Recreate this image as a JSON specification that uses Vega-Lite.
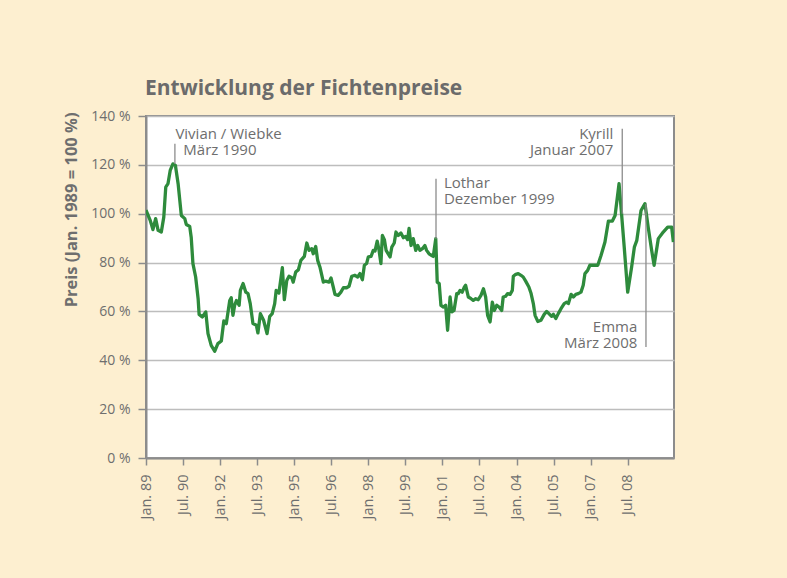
{
  "$schema": "https://vega.github.io/schema/vega-lite/v6.json",
  "width": 528,
  "height": 342,
  "autosize": {"type": "none"},
  "padding": {"left": 146, "top": 116, "right": 113, "bottom": 120},
  "background": "#FDEFD0",
  "title": {
    "text": "Entwicklung der Fichtenpreise",
    "anchor": "start",
    "frame": "group",
    "font": "Open Sans",
    "fontSize": 21,
    "fontWeight": "bold",
    "color": "#6B6B6B",
    "offset": 10,
    "dx": -1
  },
  "config": {
    "view": {"fill": "white", "stroke": "#8C8C8C", "strokeWidth": 2},
    "font": "Open Sans"
  },
  "datasets": {
    "preise": [
      {"t": 1989.0, "v": 101.5}, {"t": 1989.17, "v": 97.3}, {"t": 1989.28, "v": 93.5}, {"t": 1989.39, "v": 98.0},
      {"t": 1989.49, "v": 93.2}, {"t": 1989.62, "v": 92.5}, {"t": 1989.72, "v": 98.6}, {"t": 1989.8, "v": 110.9},
      {"t": 1989.89, "v": 112.3}, {"t": 1989.98, "v": 117.7}, {"t": 1990.09, "v": 120.4}, {"t": 1990.19, "v": 119.8},
      {"t": 1990.3, "v": 112.3}, {"t": 1990.43, "v": 99.3}, {"t": 1990.57, "v": 98.0}, {"t": 1990.63, "v": 95.6},
      {"t": 1990.77, "v": 94.8}, {"t": 1990.83, "v": 90.4}, {"t": 1990.9, "v": 79.6}, {"t": 1991.01, "v": 74.1},
      {"t": 1991.11, "v": 65.2}, {"t": 1991.15, "v": 58.8}, {"t": 1991.28, "v": 57.7}, {"t": 1991.42, "v": 59.8},
      {"t": 1991.51, "v": 50.9}, {"t": 1991.64, "v": 46.1}, {"t": 1991.78, "v": 43.7}, {"t": 1991.91, "v": 46.8},
      {"t": 1992.05, "v": 47.9}, {"t": 1992.15, "v": 56.1}, {"t": 1992.25, "v": 55.0}, {"t": 1992.39, "v": 64.5},
      {"t": 1992.45, "v": 65.6}, {"t": 1992.52, "v": 58.4}, {"t": 1992.59, "v": 62.5}, {"t": 1992.66, "v": 64.5},
      {"t": 1992.77, "v": 62.5}, {"t": 1992.82, "v": 68.6}, {"t": 1992.93, "v": 71.4}, {"t": 1993.04, "v": 67.9},
      {"t": 1993.13, "v": 67.3}, {"t": 1993.22, "v": 63.2}, {"t": 1993.33, "v": 55.0}, {"t": 1993.47, "v": 54.3},
      {"t": 1993.53, "v": 51.2}, {"t": 1993.63, "v": 59.1}, {"t": 1993.76, "v": 56.4}, {"t": 1993.9, "v": 50.9},
      {"t": 1994.01, "v": 58.0}, {"t": 1994.11, "v": 59.1}, {"t": 1994.21, "v": 63.2}, {"t": 1994.27, "v": 68.6},
      {"t": 1994.38, "v": 67.5}, {"t": 1994.52, "v": 77.9}, {"t": 1994.6, "v": 64.8}, {"t": 1994.7, "v": 72.7},
      {"t": 1994.79, "v": 74.4}, {"t": 1994.9, "v": 73.8}, {"t": 1994.96, "v": 72.0}, {"t": 1995.06, "v": 76.1},
      {"t": 1995.17, "v": 77.1}, {"t": 1995.27, "v": 80.9}, {"t": 1995.41, "v": 82.5}, {"t": 1995.51, "v": 88.0},
      {"t": 1995.6, "v": 85.0}, {"t": 1995.71, "v": 85.7}, {"t": 1995.77, "v": 83.6}, {"t": 1995.87, "v": 86.6},
      {"t": 1995.95, "v": 80.9}, {"t": 1996.04, "v": 78.2}, {"t": 1996.18, "v": 72.0}, {"t": 1996.27, "v": 72.4},
      {"t": 1996.41, "v": 72.0}, {"t": 1996.49, "v": 73.7}, {"t": 1996.58, "v": 70.0}, {"t": 1996.65, "v": 67.0},
      {"t": 1996.78, "v": 66.6}, {"t": 1996.89, "v": 67.9}, {"t": 1996.99, "v": 69.7}, {"t": 1997.12, "v": 69.7},
      {"t": 1997.22, "v": 70.3}, {"t": 1997.33, "v": 74.4}, {"t": 1997.46, "v": 74.8}, {"t": 1997.57, "v": 74.1},
      {"t": 1997.66, "v": 75.5}, {"t": 1997.76, "v": 73.0}, {"t": 1997.84, "v": 78.9}, {"t": 1997.93, "v": 79.6},
      {"t": 1998.0, "v": 82.3}, {"t": 1998.11, "v": 82.5}, {"t": 1998.2, "v": 85.0}, {"t": 1998.27, "v": 84.7},
      {"t": 1998.36, "v": 88.8}, {"t": 1998.43, "v": 85.3}, {"t": 1998.51, "v": 79.6}, {"t": 1998.57, "v": 91.1},
      {"t": 1998.65, "v": 89.4}, {"t": 1998.72, "v": 85.0}, {"t": 1998.88, "v": 82.3}, {"t": 1998.95, "v": 86.3},
      {"t": 1999.05, "v": 88.0}, {"t": 1999.12, "v": 92.5}, {"t": 1999.21, "v": 91.1}, {"t": 1999.32, "v": 92.1},
      {"t": 1999.42, "v": 90.2}, {"t": 1999.51, "v": 90.7}, {"t": 1999.59, "v": 89.4}, {"t": 1999.65, "v": 94.0},
      {"t": 1999.73, "v": 87.0}, {"t": 1999.82, "v": 89.8}, {"t": 1999.92, "v": 85.0}, {"t": 2000.0, "v": 87.0},
      {"t": 2000.09, "v": 85.0}, {"t": 2000.19, "v": 85.7}, {"t": 2000.29, "v": 87.0}, {"t": 2000.36, "v": 85.0},
      {"t": 2000.46, "v": 83.6}, {"t": 2000.57, "v": 82.9}, {"t": 2000.63, "v": 82.5}, {"t": 2000.73, "v": 89.8},
      {"t": 2000.79, "v": 72.0}, {"t": 2000.87, "v": 71.4}, {"t": 2000.94, "v": 62.5}, {"t": 2001.04, "v": 61.8},
      {"t": 2001.13, "v": 62.5}, {"t": 2001.21, "v": 52.3}, {"t": 2001.31, "v": 65.9}, {"t": 2001.38, "v": 59.8},
      {"t": 2001.47, "v": 60.4}, {"t": 2001.58, "v": 67.3}, {"t": 2001.64, "v": 67.3}, {"t": 2001.71, "v": 68.6},
      {"t": 2001.8, "v": 67.9}, {"t": 2001.89, "v": 70.0}, {"t": 2001.94, "v": 70.7}, {"t": 2002.05, "v": 65.9},
      {"t": 2002.16, "v": 65.2}, {"t": 2002.25, "v": 64.5}, {"t": 2002.35, "v": 65.2}, {"t": 2002.45, "v": 64.8},
      {"t": 2002.56, "v": 66.6}, {"t": 2002.66, "v": 69.3}, {"t": 2002.75, "v": 65.9}, {"t": 2002.83, "v": 58.4},
      {"t": 2002.93, "v": 55.7}, {"t": 2003.02, "v": 63.8}, {"t": 2003.1, "v": 60.4}, {"t": 2003.2, "v": 62.5},
      {"t": 2003.29, "v": 61.8}, {"t": 2003.4, "v": 60.4}, {"t": 2003.46, "v": 65.9}, {"t": 2003.56, "v": 66.2},
      {"t": 2003.64, "v": 67.3}, {"t": 2003.74, "v": 67.0}, {"t": 2003.83, "v": 68.6}, {"t": 2003.87, "v": 74.4},
      {"t": 2003.97, "v": 75.2}, {"t": 2004.07, "v": 75.5}, {"t": 2004.18, "v": 74.8}, {"t": 2004.27, "v": 74.1},
      {"t": 2004.37, "v": 72.4}, {"t": 2004.5, "v": 70.0}, {"t": 2004.59, "v": 67.3}, {"t": 2004.68, "v": 63.2},
      {"t": 2004.75, "v": 58.4}, {"t": 2004.86, "v": 55.9}, {"t": 2004.99, "v": 56.4}, {"t": 2005.12, "v": 58.8},
      {"t": 2005.22, "v": 60.0}, {"t": 2005.31, "v": 59.1}, {"t": 2005.42, "v": 58.0}, {"t": 2005.49, "v": 58.8},
      {"t": 2005.59, "v": 57.1}, {"t": 2005.69, "v": 59.1}, {"t": 2005.8, "v": 61.1}, {"t": 2005.93, "v": 63.2},
      {"t": 2006.03, "v": 63.8}, {"t": 2006.1, "v": 63.2}, {"t": 2006.21, "v": 67.0}, {"t": 2006.3, "v": 65.9},
      {"t": 2006.4, "v": 67.0}, {"t": 2006.5, "v": 67.3}, {"t": 2006.61, "v": 67.9}, {"t": 2006.7, "v": 70.7},
      {"t": 2006.77, "v": 75.5}, {"t": 2006.88, "v": 76.8}, {"t": 2006.97, "v": 78.9}, {"t": 2007.11, "v": 78.9},
      {"t": 2007.29, "v": 78.9}, {"t": 2007.42, "v": 82.9}, {"t": 2007.58, "v": 88.4}, {"t": 2007.72, "v": 97.0},
      {"t": 2007.88, "v": 97.0}, {"t": 2007.99, "v": 99.3}, {"t": 2008.15, "v": 112.3}, {"t": 2008.23, "v": 102.7},
      {"t": 2008.36, "v": 86.3}, {"t": 2008.5, "v": 67.9}, {"t": 2008.66, "v": 78.2}, {"t": 2008.77, "v": 86.3},
      {"t": 2008.87, "v": 89.1}, {"t": 2009.04, "v": 101.3}, {"t": 2009.2, "v": 104.1}, {"t": 2009.33, "v": 94.5},
      {"t": 2009.47, "v": 85.0}, {"t": 2009.57, "v": 78.9}, {"t": 2009.74, "v": 89.8}, {"t": 2009.94, "v": 92.5},
      {"t": 2010.12, "v": 94.5}, {"t": 2010.28, "v": 94.5}, {"t": 2010.35, "v": 88.4}
    ],
    "ereignisse": [
      {"t": 1990.17, "von": 128.6, "bis": 120.4},
      {"t": 2000.74, "von": 114.3, "bis": 89.8},
      {"t": 2008.28, "von": 134.8, "bis": 100.0},
      {"t": 2009.24, "von": 104.0, "bis": 45.4}
    ],
    "links": [
      {"t": 1990.19, "v": 132.8, "label": "Vivian / Wiebke"},
      {"t": 1990.51, "v": 126.1, "label": "März 1990"},
      {"t": 2001.06, "v": 112.7, "label": "Lothar"},
      {"t": 2001.06, "v": 105.9, "label": "Dezember 1999"}
    ],
    "rechts": [
      {"t": 2007.92, "v": 132.8, "label": "Kyrill"},
      {"t": 2007.92, "v": 126.1, "label": "Januar 2007"},
      {"t": 2008.89, "v": 53.5, "label": "Emma"},
      {"t": 2008.89, "v": 47.0, "label": "März 2008"}
    ]
  },
  "layer": [
    {
      "data": {"name": "preise"},
      "mark": {"type": "line", "color": "#2E8B3C", "strokeWidth": 3.3, "strokeJoin": "round", "clip": true},
      "encoding": {
        "x": {
          "field": "t", "type": "quantitative",
          "scale": {"domain": [1989, 2010.375], "nice": false, "zero": false},
          "axis": {
            "title": null,
            "values": [1989, 1990.5, 1992, 1993.5, 1995, 1996.5, 1998, 1999.5, 2001, 2002.5, 2004, 2005.5, 2007, 2008.5],
            "labelExpr": "(datum.value % 1 == 0 ? 'Jan. ' : 'Jul. ') + (floor(datum.value) % 100 < 10 ? '0' : '') + (floor(datum.value) % 100)",
            "labelAngle": 270, "labelAlign": "right", "labelBaseline": "middle",
            "labelFont": "Open Sans", "labelFontSize": 14.5, "labelColor": "#6E6E6E",
            "labelPadding": 9, "labelFlush": false, "labelOverlap": false,
            "tickSize": 7, "tickColor": "#8C8C8C", "tickWidth": 1.5,
            "domainColor": "#8C8C8C", "domainWidth": 2, "grid": false
          }
        },
        "y": {
          "field": "v", "type": "quantitative",
          "scale": {"domain": [0, 140], "nice": false},
          "axis": {
            "title": "Preis (Jan. 1989 = 100 %)",
            "titleFont": "Open Sans", "titleFontSize": 16.5, "titleFontWeight": "bold", "titleColor": "#6E6E6E",
            "titleAngle": 270, "titleAlign": "right", "titleBaseline": "middle",
            "titleX": -75, "titleY": -4,
            "values": [0, 20, 40, 60, 80, 100, 120, 140],
            "labelExpr": "datum.value + ' %'",
            "labelFont": "Open Sans", "labelFontSize": 14, "labelColor": "#6E6E6E",
            "labelPadding": 8, "labelFlush": false,
            "tickSize": 8, "tickColor": "#8C8C8C", "tickWidth": 1.5,
            "domainColor": "#8C8C8C", "domainWidth": 2,
            "grid": true, "gridColor": "#BDBDBD", "gridWidth": 1.5
          }
        }
      }
    },
    {
      "data": {"name": "ereignisse"},
      "mark": {"type": "rule", "color": "#8C8C8C", "strokeWidth": 1.3},
      "encoding": {
        "x": {"field": "t", "type": "quantitative"},
        "y": {"field": "von", "type": "quantitative"},
        "y2": {"field": "bis"}
      }
    },
    {
      "data": {"name": "links"},
      "mark": {"type": "text", "align": "left", "baseline": "middle", "font": "Open Sans", "fontSize": 15, "color": "#6E6E6E"},
      "encoding": {
        "x": {"field": "t", "type": "quantitative"},
        "y": {"field": "v", "type": "quantitative"},
        "text": {"field": "label"}
      }
    },
    {
      "data": {"name": "rechts"},
      "mark": {"type": "text", "align": "right", "baseline": "middle", "font": "Open Sans", "fontSize": 15, "color": "#6E6E6E"},
      "encoding": {
        "x": {"field": "t", "type": "quantitative"},
        "y": {"field": "v", "type": "quantitative"},
        "text": {"field": "label"}
      }
    }
  ]
}
